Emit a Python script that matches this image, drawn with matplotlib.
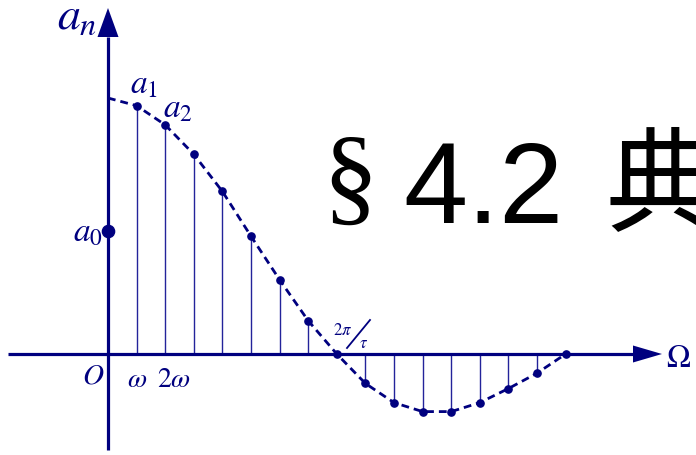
import numpy as np
import matplotlib
matplotlib.use("Agg")
import matplotlib.pyplot as plt
from matplotlib.lines import Line2D

plt.rcParams['mathtext.fontset'] = 'stix'

# spectrum of a periodic rectangular pulse train, first zero at n = 8
harmonic = [1, 2, 3, 4, 5, 6, 7, 8, 9, 10, 11, 12, 13, 14, 15, 16]
a_n = [0.97, 0.895, 0.78, 0.635, 0.46, 0.29, 0.13, 0.0,
       -0.115, -0.19, -0.225, -0.225, -0.19, -0.135, -0.075, 0.0]
a0 = 0.48
envelope_start = 1.0

navy = '#00007f'
W, H = 696, 455
px_x, px_y = 28.6, 256.0   # pixels per harmonic / per unit amplitude
ox, oy = 108, 354          # origin in pixels

fig = plt.figure(figsize=(W / 100, H / 100), dpi=100)
ax = fig.add_axes([0, 0, 1, 1])
ax.set_xlim(-ox / px_x, (W - ox) / px_x)
ax.set_ylim(-(H - oy) / px_y, oy / px_y)
ax.axis('off')


def P(x, y):
    """pixel position -> data coords"""
    return (x - ox) / px_x, (oy - y) / px_y


def ftext(x, y, s, **kw):
    fig.text(x / W, 1 - y / H, s, va='baseline', ha='left', color=navy, **kw)


# axes with arrow heads
x0, _ = P(8, 0)
x1, _ = P(633, 0)
xt, _ = P(662, 0)
hh = 8.5 / px_y
ax.plot([x0, x1], [0, 0], color=navy, lw=2.3, solid_capstyle='butt', zorder=3)
ax.fill([x1, xt, x1], [hh, 0, -hh], color=navy, lw=0, zorder=3)

_, yb = P(0, 450)
_, y1 = P(0, 37)
_, yt = P(0, 8)
hw = 10.5 / px_x
ax.plot([0, 0], [yb, y1], color=navy, lw=2.3, solid_capstyle='butt', zorder=3)
ax.fill([-hw, 0, hw], [y1, yt, y1], color=navy, lw=0, zorder=3)

# harmonic lines
ax.vlines(harmonic, 0, a_n, color='#23239a', lw=1.0, zorder=2)

# dashed envelope through the harmonics
ax.plot([0] + harmonic, [envelope_start] + a_n, color=navy, lw=2.0,
        ls=(0, (2.8, 1.8)), zorder=4)
ax.plot(harmonic, a_n, 'o', color=navy, ms=5.2, zorder=5)
ax.plot([0], [a0], 'o', color=navy, ms=8.8, zorder=5)

# labels
ftext(57, 29, r'$a_n$', fontsize=33)
ftext(130, 93, r'$a_1$', fontsize=24)
ftext(163, 117, r'$a_2$', fontsize=24)
ftext(73, 241, r'$a_0$', fontsize=24)
ftext(82, 383, r'$O$', fontsize=21)
ftext(127, 387, r'$\omega$', fontsize=20)
ftext(157, 387, r'$2\omega$', fontsize=20)
ftext(666, 367, r'$\Omega$', fontsize=23)
ftext(333, 335, r'$2\pi$', fontsize=12)
ftext(359, 348, r'$\tau$', fontsize=12)
fig.add_artist(Line2D([347 / W, 370 / W], [1 - 348 / H, 1 - 320 / H],
                      transform=fig.transFigure, color=navy, lw=1.3))

# section heading
fig.text(322 / W, 1 - 212 / H, '§', fontsize=80, family='Liberation Serif',
         va='baseline', ha='left', color='black')
fig.text(403 / W, 1 - 223 / H, '4.2', fontsize=83, family='Liberation Sans',
         va='baseline', ha='left', color='black')
fig.text(606 / W, 1 - 222 / H, '典', fontsize=82, family='Noto Sans CJK SC',
         va='baseline', ha='left', color='black')

fig.savefig('out.png', dpi=100)
